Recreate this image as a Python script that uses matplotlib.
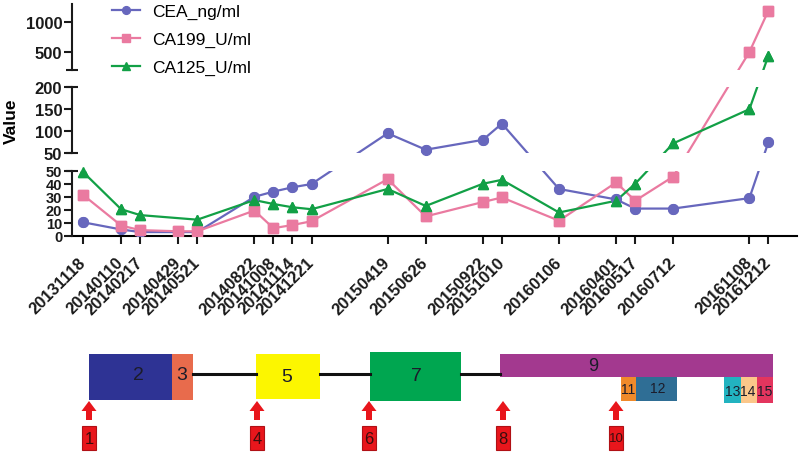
import numpy as np
import matplotlib.pyplot as plt
from matplotlib import patches

plt.rcParams['font.family'] = ['Liberation Sans', 'DejaVu Sans']

# ---- tumour marker data ----
dates = ['20131118', '20140110', '20140217', '20140429', '20140521', '20140822',
         '20141008', '20141114', '20141221', '20150419', '20150626', '20150922',
         '20151010', '20160106', '20160401', '20160517', '20160712', '20161108',
         '20161212']
x_pos = [0, 2, 3, 5, 6, 9, 10, 11, 12, 16, 18, 21, 22, 25, 28, 29, 31, 35, 36]
cea = [10.5, 5, 3, 3, 3, 30, 34, 37.3, 39.8, 95, 57.5, 80, 117, 36, 28, 21, 21, 29, 75]
ca199 = [31.5, 8, 4.5, 3.6, 3.6, 19.5, 6, 8.4, 11.3, 43.5, 15, 26, 29.5, 11.7, 41, 27, 45.5, 500, 1190]
ca125 = [49, 20.5, 16, np.nan, 12.5, 27.5, 24.5, 22, 20.5, 36, 23, 40, 43, 18, 27, 40, 72, 150, 440]

# ---- treatment timeline (figure pixel coords) ----
seg_labels = ['2', '3', '5', '7', '9', '11', '12', '13', '14', '15']
seg_x0 = [89, 172, 256, 370, 500, 621, 636, 724, 741, 757]
seg_x1 = [172, 193, 320, 461, 773, 636, 677, 741, 757, 773]
seg_y0 = [355, 355, 355, 353, 355, 378, 378, 378, 378, 378]
seg_y1 = [401, 401, 400, 402, 378, 402, 402, 404, 404, 404]
seg_tx = [138, 182, 287, 416, 593, 628, 658, 733, 748, 765]
seg_ty = [376, 376, 378, 377, 367, 390, 389, 392, 392, 392]
seg_fs = [14, 14, 14, 14, 13, 10, 10, 10, 10, 10]
seg_colors = ['#2e3394', '#e86b4c', '#fcf600', '#00a650', '#a3398f',
              '#f08a2a', '#2f6e95', '#22b3c0', '#fbc78a', '#e3355e']
link_x0 = [193, 320, 461]
link_x1 = [256, 370, 500]
arrow_x = [89, 257, 369, 503, 616]
arrow_labels = ['1', '4', '6', '8', '10']

# broken y axis: value -> pixel height above the x axis
brk_val = [0, 50, 50 + 1e-6, 200, 200 + 1e-6, 1300]
brk_pix = [0, 65.3, 83, 148.7, 166, 232]


def fwd(v):
    return np.interp(v, brk_val, brk_pix)


def inv(p):
    return np.interp(p, brk_pix, brk_val)


fig = plt.figure(figsize=(8, 4.56), dpi=100)
ax = fig.add_axes([72 / 800, 1 - 237 / 456, (797 - 72) / 800, (237 - 5) / 456])
ax.set_yscale('function', functions=(fwd, inv))
ax.set_ylim(0, 1300)
ax.set_xlim(-0.58, 37.5)

blue, pink, green = '#6767bd', '#ea7aa0', '#12a046'
series = [(cea, blue, 'o', 'CEA_ng/ml'),
          (ca199, pink, 's', 'CA199_U/ml'),
          (ca125, green, '^', 'CA125_U/ml')]
handles = []
for vals, col, mk, name in series:
    xv = np.array(x_pos, dtype=float)
    yv = np.array(vals, dtype=float)
    ok = ~np.isnan(yv)
    h, = ax.plot(xv[ok], yv[ok], color=col, lw=1.6, marker=mk, ms=7,
                 label=name, zorder=2)
    ax.plot(xv[ok], yv[ok], ls='none', marker=mk, ms=7, color=col, zorder=3)
    handles.append(h)

# blank the lines in the axis breaks
ax.axhspan(50, 50 + 1e-6, color='white', lw=0, zorder=2.5)
ax.axhspan(200, 200 + 1e-6, color='white', lw=0, zorder=2.5)

# y axis drawn as three segments
ax.spines['left'].set_visible(False)
ax.spines['top'].set_visible(False)
ax.spines['right'].set_visible(False)
ax.spines['bottom'].set_linewidth(1.5)
ytr = ax.get_yaxis_transform()
for lo, hi in [(0, 50), (50 + 1e-6, 200), (200 + 1e-6, 1300)]:
    ax.plot([0, 0], [lo, hi], color='#1a1a1a', lw=1.5, transform=ytr,
            clip_on=False, zorder=4)
ax.plot([0, 0, 0, 0], [50, 50 + 1e-6, 200, 200 + 1e-6], ls='none', marker='_',
        ms=8, mew=1.5, color='#1a1a1a', transform=ytr, clip_on=False, zorder=4)

yt = [0, 10, 20, 30, 40, 50, 50 + 1e-6, 100, 150, 200, 500, 1000]
ax.set_yticks(yt)
ax.set_yticklabels(['0', '10', '20', '30', '40', '50', '50', '100', '150', '200', '500', '1000'],
                   fontweight='bold', fontsize=12)
for lbl in ax.get_yticklabels()[:6]:
    lbl.set_fontsize(10.5)
ax.yaxis.set_minor_locator(plt.NullLocator())
ax.tick_params(axis='y', length=6, width=1.5, pad=1, colors='#1a1a1a')
ax.tick_params(axis='x', length=6, width=1.5, pad=11, colors='#1a1a1a')
ax.set_xticks(x_pos)
ax.set_xticklabels(dates, rotation=45, ha='right', va='center',
                   rotation_mode='anchor', fontweight='bold', fontsize=12)
ax.set_ylabel('Value', fontweight='bold', fontsize=12.5)
ax.yaxis.set_label_coords(-0.073, 0.5)

ax.legend(handles=handles, loc='upper left', frameon=False, fontsize=12.5,
          bbox_to_anchor=(112 / 800, 1 - 5 / 456), bbox_transform=fig.transFigure,
          borderpad=0, borderaxespad=0, handlelength=1.6, handletextpad=0.7,
          labelspacing=0.72, markerscale=0.8)

# ---- timeline drawing ----
ax2 = fig.add_axes([0, 0, 1, 1])
ax2.set_xlim(0, 800)
ax2.set_ylim(456, 0)
ax2.axis('off')
for a, b in zip(link_x0, link_x1):
    ax2.plot([a, b], [374.5, 374.5], color='#111111', lw=2.2)
for lab, x0, x1, y0, y1, tx, ty, fs, col in zip(seg_labels, seg_x0, seg_x1, seg_y0,
                                                  seg_y1, seg_tx, seg_ty, seg_fs, seg_colors):
    ax2.add_patch(patches.Rectangle((x0, y0), x1 - x0, y1 - y0, facecolor=col, lw=0))
    ax2.text(tx, ty, lab, fontsize=fs, ha='center', va='center', color='#1c1c2a')
for x, lab in zip(arrow_x, arrow_labels):
    ax2.add_patch(patches.FancyArrow(x, 421, 0, -19, width=6, head_width=15,
                                     head_length=10, length_includes_head=True,
                                     color='#e8161c', lw=0))
    ax2.add_patch(patches.Rectangle((x - 7, 427), 14, 24, facecolor='#e8161c',
                                    edgecolor='#b01015', lw=0.8))
    ax2.text(x, 439.5, lab, fontsize=12 if len(lab) == 1 else 9.5,
             ha='center', va='center', color='#3a0d0d')

fig.savefig('out.png', dpi=100)
